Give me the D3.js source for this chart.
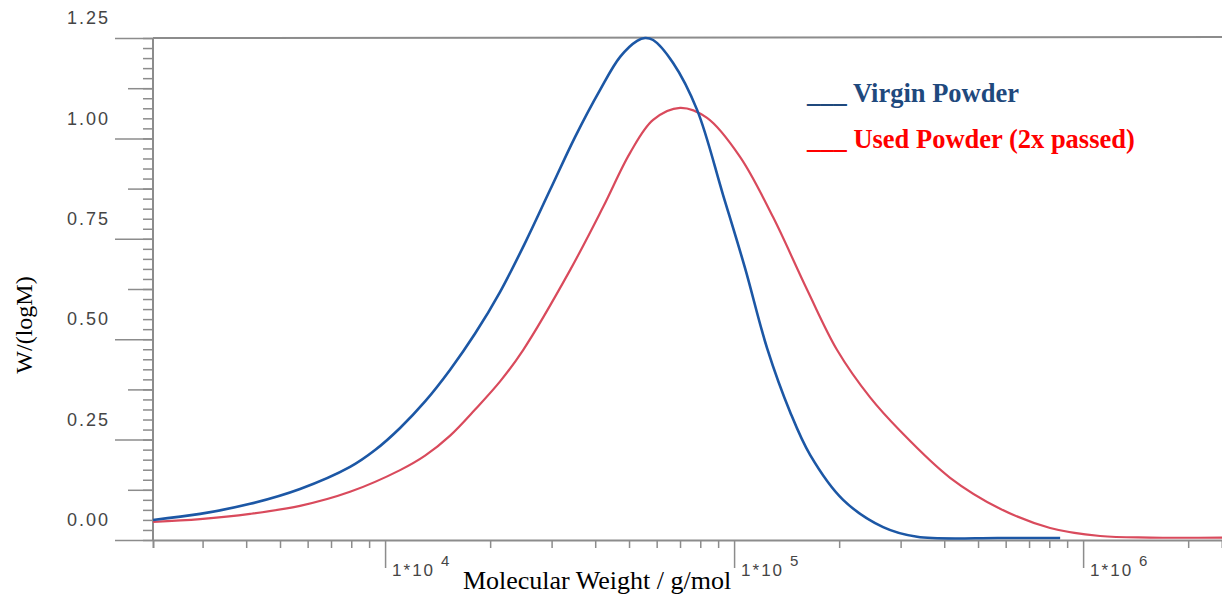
<!DOCTYPE html>
<html>
<head>
<meta charset="utf-8">
<script src="https://cdn.jsdelivr.net/npm/d3@7"></script>
<style>
  body { margin: 0; background: #fff; }
  svg { display: block; }
</style>
</head>
<body>
<div id="chart"></div>
<script>
// molecular weight (g/mol) and W/(logM)
const virginMW = [2163, 2951, 4105, 5706, 7937, 9361, 11040, 13020, 15360, 18110, 21360, 25190, 29710, 35040, 41310, 47140, 52740, 55590, 58610, 66880, 78340, 93000, 107500, 124300, 144700, 165100, 205300, 267300, 334500, 578300, 859400];
const virginW  = [0.050, 0.065, 0.090, 0.127, 0.182, 0.224, 0.279, 0.345, 0.424, 0.514, 0.618, 0.740, 0.872, 1.004, 1.121, 1.203, 1.243, 1.250, 1.245, 1.188, 1.071, 0.859, 0.677, 0.478, 0.319, 0.212, 0.100, 0.032, 0.008, 0.005, 0.005];

const usedMW = [2163, 2951, 4105, 5706, 7937, 11040, 13020, 15360, 18110, 21360, 24860, 33890, 42140, 50350, 58610, 70030, 83660, 104000, 129300, 161900, 197300, 245300, 298900, 415800, 578300, 804400, 1119000, 1556000, 2500000];
const usedW  = [0.045, 0.052, 0.065, 0.085, 0.120, 0.174, 0.210, 0.260, 0.325, 0.395, 0.473, 0.672, 0.829, 0.964, 1.046, 1.076, 1.051, 0.954, 0.804, 0.623, 0.473, 0.355, 0.272, 0.155, 0.078, 0.030, 0.010, 0.006, 0.006];

const yTickLabels = ["0.00", "0.25", "0.50", "0.75", "1.00", "1.25"];
const xDecades = [1e4, 1e5, 1e6];
const xDecadeExp = ["4", "5", "6"];

const legendNames = ["___ Virgin Powder", "___ Used Powder (2x passed)"];

const width = 1222, height = 595;

const svg = d3.select("#chart")
  .append("svg")
  .attr("width", width)
  .attr("height", height);

const x = d3.scaleLog()
  .domain([2163, 2500000])
  .range([153, 1222]);

const y = d3.scaleLinear()
  .domain([0, 1.25])
  .range([540, 38]);

const axisColor = "#8c8c8c";

// y axis: minor, medium, major ticks
const yMinor = d3.range(0, 1.2501, 0.025);
const yMid = d3.range(0.125, 1.25, 0.25);
const yMajor = d3.range(0, 1.2501, 0.25);

svg.append("g")
  .attr("transform", "translate(153,0)")
  .call(d3.axisLeft(y).tickValues(yMinor).tickSize(10).tickFormat(""))
  .call(g => g.select(".domain").remove());

svg.append("g")
  .attr("transform", "translate(153,0)")
  .call(d3.axisLeft(y).tickValues(yMid).tickSize(25).tickFormat(""))
  .call(g => g.select(".domain").remove());

const yAx = svg.append("g")
  .attr("transform", "translate(153,0)")
  .call(d3.axisLeft(y).tickValues(yMajor).tickSize(38).tickPadding(5)
    .tickFormat((d, i) => yTickLabels[i]))
  .call(g => g.select(".domain").remove());

yAx.selectAll("text")
  .attr("dy", "0.32em")
  .attr("y", -20)
  .attr("fill", "#454545")
  .attr("font-family", "Liberation Sans, Arial, sans-serif")
  .attr("font-size", 18)
  .attr("letter-spacing", 2);

// x axis
const xMinor = [];
[1e3, 1e4, 1e5, 1e6].forEach(dec => {
  for (let k = 2; k <= 9; k++) {
    const v = dec * k;
    if (v > x.domain()[0] && v < x.domain()[1]) xMinor.push(v);
  }
});

svg.append("g")
  .attr("transform", "translate(0,540)")
  .call(d3.axisBottom(x).tickValues(xMinor).tickSize(8).tickFormat(""));

svg.append("g")
  .attr("transform", "translate(0,540)")
  .call(d3.axisBottom(x).tickValues(xDecades).tickSize(28).tickFormat(""))
  .call(g => g.select(".domain").remove());

svg.selectAll("g.tick line, path.domain")
  .attr("stroke", axisColor)
  .attr("stroke-width", 1.5);

svg.selectAll("path.domain").attr("stroke-width", 2);

// y axis line and top frame line
svg.append("line")
  .attr("x1", 153).attr("x2", 153)
  .attr("y1", y(1.25)).attr("y2", y(0))
  .attr("stroke", axisColor).attr("stroke-width", 2);

svg.append("line")
  .attr("x1", 153).attr("x2", width)
  .attr("y1", y(1.25)).attr("y2", y(1.25) - 1)
  .attr("stroke", axisColor).attr("stroke-width", 2);

// decade labels 1*10^n
const decLab = svg.append("g")
  .attr("font-family", "Liberation Sans, Arial, sans-serif")
  .attr("fill", "#454545");

xDecades.forEach((d, i) => {
  const t = decLab.append("text")
    .attr("x", x(d) + 7)
    .attr("y", 576)
    .attr("font-size", 17)
    .attr("letter-spacing", 2);
  t.append("tspan").text("1*10");
  t.append("tspan")
    .attr("dx", 6)
    .attr("dy", -10)
    .attr("font-size", 15)
    .attr("letter-spacing", 0)
    .text(xDecadeExp[i]);
});

// curves
const line = d3.line()
  .x(d => x(d[0]))
  .y(d => y(d[1]))
  .curve(d3.curveCatmullRom.alpha(0.5));

const usedData = usedMW.map((m, i) => [m, usedW[i]]);
const virginData = virginMW.map((m, i) => [m, virginW[i]]);

svg.append("path")
  .datum(usedData)
  .attr("d", line)
  .attr("fill", "none")
  .attr("stroke", "#d94a5c")
  .attr("stroke-width", 2.2);

svg.append("path")
  .datum(virginData)
  .attr("d", line)
  .attr("fill", "none")
  .attr("stroke", "#1c57a5")
  .attr("stroke-width", 2.6);

// axis titles
svg.append("text")
  .attr("x", 597)
  .attr("y", 589)
  .attr("text-anchor", "middle")
  .attr("font-family", "Liberation Serif, Times New Roman, serif")
  .attr("font-size", 26)
  .attr("fill", "#000")
  .text("Molecular Weight / g/mol");

svg.append("text")
  .attr("transform", "translate(32,325) rotate(-90)")
  .attr("text-anchor", "middle")
  .attr("font-family", "Liberation Serif, Times New Roman, serif")
  .attr("font-size", 24)
  .attr("fill", "#000")
  .text("W/(logM)");

// legend
const legendColors = ["#1f497d", "#ff0000"];
svg.append("g")
  .selectAll("text")
  .data(legendNames)
  .join("text")
  .attr("x", 807)
  .attr("y", (d, i) => 102 + i * 46)
  .attr("font-family", "Liberation Serif, Times New Roman, serif")
  .attr("font-weight", "bold")
  .attr("font-size", 26.5)
  .attr("fill", (d, i) => legendColors[i])
  .text(d => d);
</script>
</body>
</html>
